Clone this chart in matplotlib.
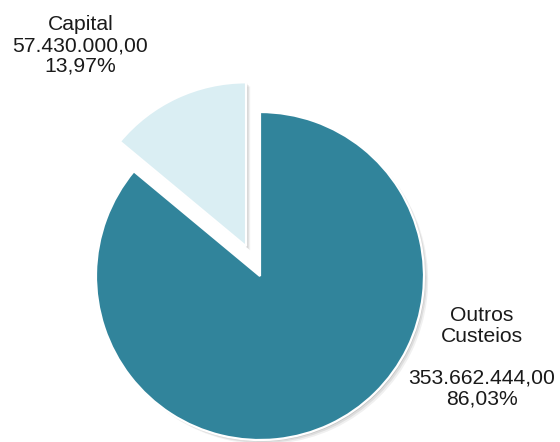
import matplotlib
matplotlib.use("Agg")
import matplotlib.pyplot as plt
import matplotlib.patheffects as pe

plt.rcParams['font.family'] = ['Liberation Sans', 'DejaVu Sans']

# Budget split
categories = ['Outros\nCusteios', 'Capital']
values = [353662444.00, 57430000.00]
colors = ['#31849b', '#daeef3']
explode = [0.0, 0.2]


def fmt_brl(v):
    s = f'{v:,.2f}'
    return s.replace(',', 'X').replace('.', ',').replace('X', '.')


def fmt_pct(v, total):
    return f'{100 * v / total:.2f}'.replace('.', ',') + '%'


total = sum(values)

fig = plt.figure(figsize=(5.6, 4.42), dpi=100)
ax = fig.add_axes([0, 0, 1, 1])

shadow = [
    pe.SimplePatchShadow(offset=(3, -3), shadow_rgbFace='#000000', alpha=0.06),
    pe.SimplePatchShadow(offset=(2, -2), shadow_rgbFace='#000000', alpha=0.08),
    pe.SimplePatchShadow(offset=(1, -1), shadow_rgbFace='#000000', alpha=0.10),
    pe.Normal(),
]

wedges, _ = ax.pie(values, colors=colors, explode=explode, startangle=90,
                   counterclock=False, radius=1.0,
                   wedgeprops=dict(edgecolor='white', linewidth=1.6))
for w in wedges:
    w.set_path_effects(shadow)

ax.set_xlim(-1.585, 1.829)
ax.set_ylim(-1.012, 1.683)
ax.set_aspect('equal')
ax.axis('off')

# Labels: name, value, percent
ax.text(-1.095, 1.405,
        f'{categories[1]}\n{fmt_brl(values[1])}\n{fmt_pct(values[1], total)}',
        ha='center', va='center', fontsize=15.2, linespacing=1.12,
        color='#1a1a1a')
ax.text(1.354, -0.494,
        f'{categories[0]}\n\n{fmt_brl(values[0])}\n{fmt_pct(values[0], total)}',
        ha='center', va='center', fontsize=15.2, linespacing=1.12,
        color='#1a1a1a')

fig.savefig('out.png', dpi=100)
plt.close(fig)
